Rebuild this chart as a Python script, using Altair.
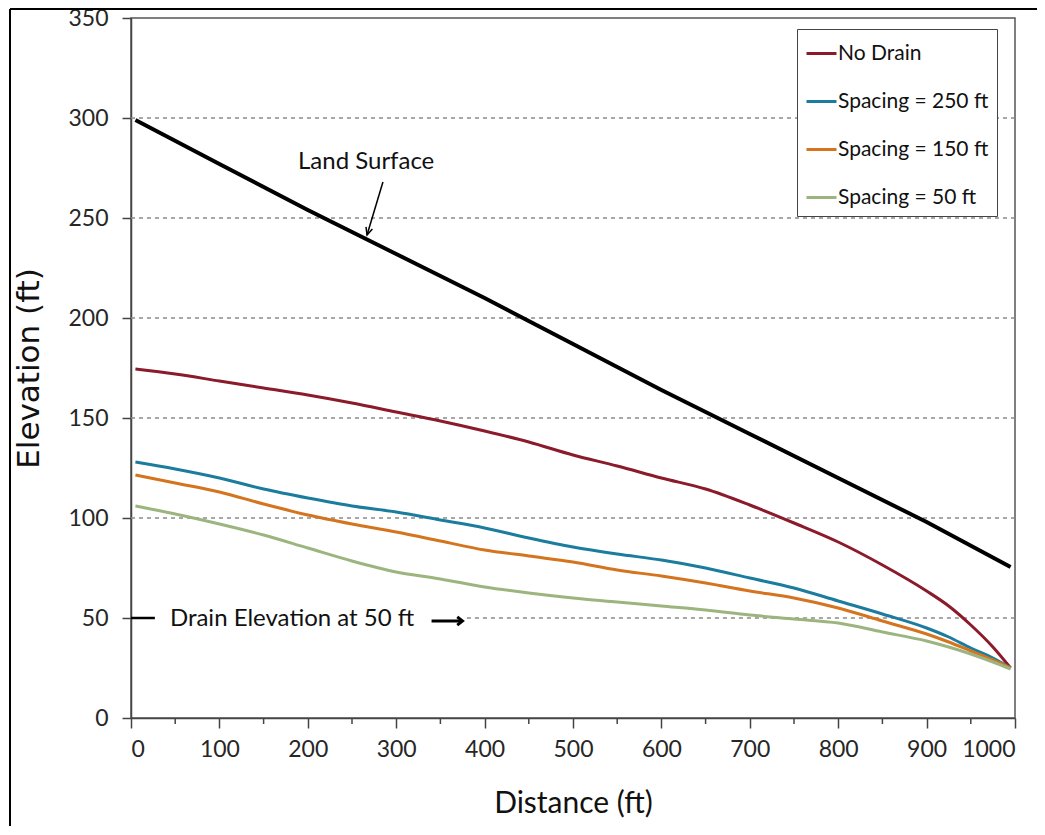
import altair as alt
import pandas as pd

# ---- data ----
land_dist = [5, 100, 200, 300, 400, 500, 600, 700, 800, 900, 995]
land_elev = [299, 277, 254, 232, 210, 187, 164, 142, 120, 98, 75.5]

dist = [5, 50, 100, 150, 200, 250, 300, 350, 400, 450, 500, 550, 600, 650,
        700, 750, 800, 850, 900, 925, 950, 975, 995]
no_drain = [174.5, 172, 168.5, 165, 161.5, 157.5, 153, 148.5, 143.5, 138, 131.5,
            126, 120, 114.5, 106.5, 97.5, 88, 76.5, 63.5, 56, 46.5, 35.5, 25]
spacing_250 = [128, 124.5, 120, 114.5, 110, 106, 103, 99, 95, 90, 85.5, 82, 79,
               75, 70, 65, 58.5, 52, 45, 40.5, 35, 30, 25]
spacing_150 = [121.5, 117.5, 113, 107, 101.5, 97, 93, 88.5, 84, 81, 78, 74, 71,
               67.5, 63.5, 60, 55, 48.5, 42, 38, 33.5, 29, 25]
spacing_50 = [106, 102, 97, 91.5, 85, 78.5, 73, 69.5, 65.5, 62.5, 60, 58, 56, 54,
              51.5, 49.5, 47.5, 43, 38.5, 35.5, 32, 28, 24.5]

series_names = ["No Drain", "Spacing = 250 ft", "Spacing = 150 ft", "Spacing = 50 ft"]
series_colors = ["#8b1a2b", "#1b7c9e", "#d4741e", "#9cb57e"]

x_ticks = [0, 100, 200, 300, 400, 500, 600, 700, 800, 900, 1000]
x_minor = [50, 150, 250, 350, 450, 550, 650, 750, 850, 950]
y_ticks = [0, 50, 100, 150, 200, 250, 300, 350]
grid_y = [50, 100, 150, 200, 250, 300]
grid_x0 = [380, 0, 0, 0, 0, 0]

FONT = "Lato"
TXT = "#262626"

# ---- tables ----
rows = []
for name, vals in zip(series_names, [no_drain, spacing_250, spacing_150, spacing_50]):
    for d, v in zip(dist, vals):
        rows.append({"series": name, "dist": d, "elev": v})
lines_df = pd.DataFrame(rows)
land_df = pd.DataFrame({"dist": land_dist, "elev": land_elev})
grid_df = pd.DataFrame({"y": grid_y, "x0": grid_x0, "x1": [1000] * len(grid_y)})
minor_df = pd.DataFrame({"x": x_minor})

xscale = alt.Scale(domain=[0, 1000], nice=False)
yscale = alt.Scale(domain=[0, 350], nice=False)

x_axis = alt.Axis(values=x_ticks, title="Distance (ft)", grid=False, tickSize=10,
                  labelPadding=10, titlePadding=27, format="d",
                  titleFont=FONT, titleFontSize=30)
y_axis = alt.Axis(values=y_ticks, title="Elevation (ft)", grid=False, tickSize=9,
                  labelPadding=14, titlePadding=22, format="d",
                  titleFont="DejaVu Sans", titleFontSize=31)

grid = alt.Chart(grid_df).mark_rule(color="#8a8a8a", strokeDash=[4, 4], strokeWidth=1.3).encode(
    x=alt.X("x0:Q", scale=xscale, axis=x_axis),
    x2="x1:Q",
    y=alt.Y("y:Q", scale=yscale, axis=y_axis),
)

minor = alt.Chart(minor_df).mark_rule(color="#444444", strokeWidth=1.5).encode(
    x=alt.X("x:Q", scale=xscale),
    y=alt.value(700),
    y2=alt.value(706),
)

lines = alt.Chart(lines_df).mark_line(strokeWidth=3, interpolate="monotone").encode(
    x=alt.X("dist:Q", scale=xscale),
    y=alt.Y("elev:Q", scale=yscale),
    color=alt.Color("series:N",
                    scale=alt.Scale(domain=series_names, range=series_colors),
                    legend=alt.Legend(title=None, orient="none", legendX=666, legendY=11,
                                      symbolType="stroke", symbolSize=900,
                                      symbolStrokeWidth=3, labelFont=FONT,
                                      labelFontSize=21, labelColor="#111111",
                                      labelOffset=0, rowPadding=21, padding=8,
                                      strokeColor="#444444", fillColor="white",
                                      labelLimit=300)),
    detail="series:N",
)

land = alt.Chart(land_df).mark_line(strokeWidth=4, color="black").encode(
    x=alt.X("dist:Q", scale=xscale),
    y=alt.Y("elev:Q", scale=yscale),
)

# annotations
land_text = alt.Chart(pd.DataFrame({"x": [266], "y": [278], "t": ["Land Surface"]})).mark_text(
    font=FONT, fontSize=24, color="#111111", align="center", baseline="middle"
).encode(x=alt.X("x:Q", scale=xscale), y=alt.Y("y:Q", scale=yscale), text="t:N")

land_shaft = alt.Chart(pd.DataFrame({"x": [285], "y": [268], "x2": [267], "y2": [241.5]})).mark_rule(
    color="black", strokeWidth=1.5
).encode(x=alt.X("x:Q", scale=xscale), y=alt.Y("y:Q", scale=yscale), x2="x2:Q", y2="y2:Q")

land_head = alt.Chart(pd.DataFrame({"x": [267], "y": [241.5]})).mark_point(
    shape="M-0.45,-1L0,0L0.45,-1", filled=False, stroke="black", strokeWidth=1.5,
    size=220, angle=17, opacity=1
).encode(x=alt.X("x:Q", scale=xscale), y=alt.Y("y:Q", scale=yscale))

drain_text = alt.Chart(pd.DataFrame({"x": [44], "y": [49.5], "t": ["Drain Elevation at 50 ft"]})).mark_text(
    font=FONT, fontSize=24, color="#111111", align="left", baseline="middle"
).encode(x=alt.X("x:Q", scale=xscale), y=alt.Y("y:Q", scale=yscale), text="t:N")

drain_dash = alt.Chart(pd.DataFrame({"x": [0], "x2": [27], "y": [50]})).mark_rule(
    color="black", strokeWidth=2.5
).encode(x=alt.X("x:Q", scale=xscale), x2="x2:Q", y=alt.Y("y:Q", scale=yscale))

drain_shaft = alt.Chart(pd.DataFrame({"x": [340], "x2": [373], "y": [48.5]})).mark_rule(
    color="black", strokeWidth=3
).encode(x=alt.X("x:Q", scale=xscale), x2="x2:Q", y=alt.Y("y:Q", scale=yscale))

drain_head = alt.Chart(pd.DataFrame({"x": [375], "y": [48.5]})).mark_point(
    shape="M-1,-0.8L0,0L-1,0.8", filled=False, stroke="black", strokeWidth=3,
    size=110, opacity=1
).encode(x=alt.X("x:Q", scale=xscale), y=alt.Y("y:Q", scale=yscale))

# outer figure frame (only its top and left edges fall inside the picture)
frame_left = alt.Chart(pd.DataFrame({"a": [0]})).mark_rule(color="black", strokeWidth=2).encode(
    x=alt.value(-121), y=alt.value(-9), y2=alt.value(820))
frame_top = alt.Chart(pd.DataFrame({"a": [0]})).mark_rule(color="black", strokeWidth=2).encode(
    x=alt.value(-121), x2=alt.value(906), y=alt.value(-9))

chart = alt.layer(
    grid, minor, lines, land, land_text, land_shaft, land_head,
    drain_dash, drain_text, drain_shaft, drain_head, frame_left, frame_top
).properties(
    width=884, height=700,
    autosize=alt.AutoSizeParams(type="none"),
    padding={"left": 123, "top": 10, "right": 22, "bottom": 108},
    background="white",
).configure_view(
    stroke="#555555", strokeWidth=1.5
).configure_axis(
    labelFont=FONT, labelFontSize=23, labelColor=TXT,
    titleColor="#111111", titleFontWeight="normal",
    domainColor="#444444", domainWidth=1.5, tickColor="#444444", tickWidth=1.5,
)

chart.save("out.html", embed_options={"renderer": "svg", "actions": False})
